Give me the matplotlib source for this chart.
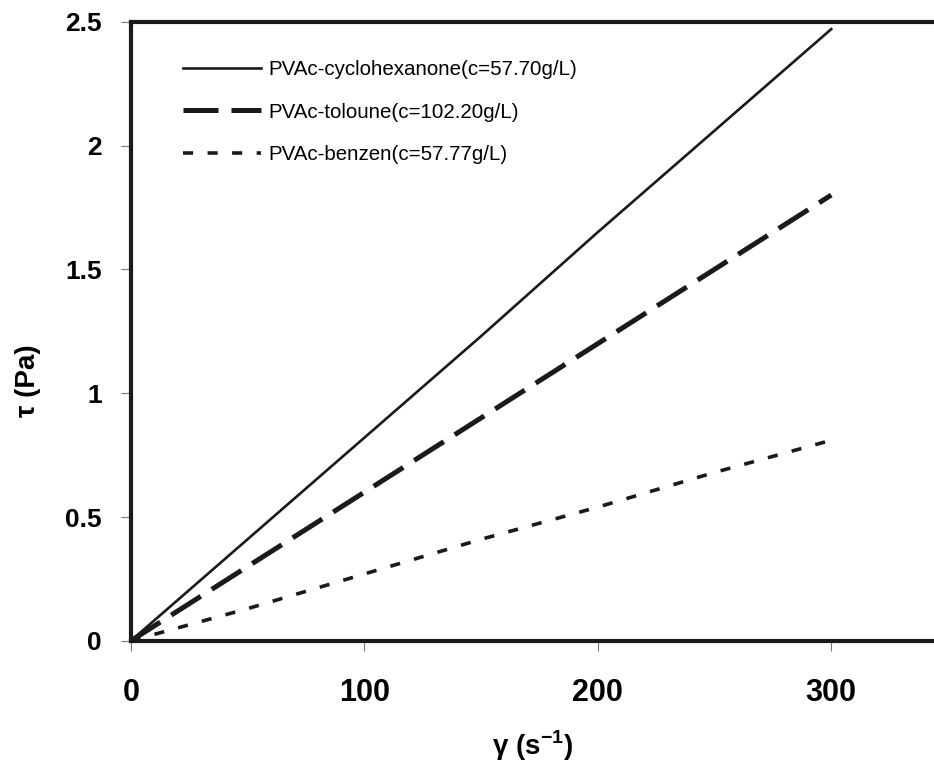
import numpy as np
import matplotlib.pyplot as plt

plt.rcParams['font.family'] = ['Liberation Sans', 'DejaVu Sans']
plt.rcParams['mathtext.fontset'] = 'custom'
plt.rcParams['mathtext.bf'] = 'Liberation Sans:bold'
plt.rcParams['mathtext.rm'] = 'Liberation Sans:bold'

# shear rate (1/s) and shear stress (Pa)
shear_rate = [0, 50, 100, 150, 200, 250, 300]
tau_cyclohexanone = [0, 0.41, 0.82, 1.23, 1.65, 2.06, 2.47]
tau_toluene = [0, 0.30, 0.60, 0.90, 1.20, 1.50, 1.80]
tau_benzene = [0, 0.13, 0.27, 0.41, 0.54, 0.68, 0.81]

labels = ['PVAc-cyclohexanone(c=57.70g/L)',
          'PVAc-toloune(c=102.20g/L)',
          'PVAc-benzen(c=57.77g/L)']

fig = plt.figure(figsize=(9.34, 7.74), dpi=100)
ax = fig.add_axes([0.140, 0.172, 0.860, 0.800])

ax.plot(shear_rate, tau_cyclohexanone, color='#1a1a1a', lw=1.9, label=labels[0])
ax.plot(shear_rate, tau_toluene, color='#1a1a1a', lw=3.6, dashes=(7, 2.6), label=labels[1])
ax.plot(shear_rate, tau_benzene, color='#1a1a1a', lw=2.6, dashes=(2.8, 4), label=labels[2])

ax.set_xlim(0, 344)
ax.set_ylim(0, 2.5)
ax.set_xticks([0, 100, 200, 300])
ax.set_yticks([0, 0.5, 1, 1.5, 2, 2.5])
ax.set_yticklabels(['0', '0.5', '1', '1.5', '2', '2.5'])

for s in ['left', 'top', 'bottom']:
    ax.spines[s].set_linewidth(3)
    ax.spines[s].set_color('#1a1a1a')
ax.spines['right'].set_visible(False)

ax.tick_params(axis='x', direction='out', length=7, width=0.8, pad=20,
               labelsize=22, color='#777777')
ax.tick_params(axis='y', direction='out', length=7, width=0.8, pad=14,
               labelsize=19, color='#777777')
for t in ax.get_xticklabels() + ax.get_yticklabels():
    t.set_fontweight('bold')

ax.set_xlabel('γ (s$^{-1}$)', fontsize=20, fontweight='bold')
ax.set_ylabel('τ (Pa)', fontsize=20, fontweight='bold')
ax.xaxis.set_label_coords(0.5, -0.142)
ax.yaxis.set_label_coords(-0.112, 0.42)

leg = ax.legend(loc='upper left', bbox_to_anchor=(0.042, 0.968), frameon=False,
                fontsize=14.8, handlelength=3.8, handletextpad=0.35, labelspacing=1.15)

fig.savefig('out.png', dpi=100)
